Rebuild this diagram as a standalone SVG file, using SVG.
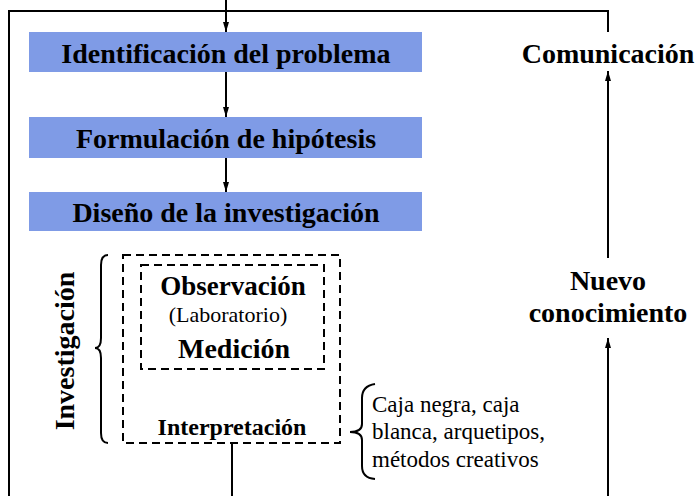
<svg xmlns="http://www.w3.org/2000/svg" width="697" height="496" viewBox="0 0 697 496">
<style>
.box{fill:#7f9be6;stroke:none}
.t{font-family:"Liberation Serif",serif;fill:#000}
.b{font-weight:bold}
.ln{stroke:#000;stroke-width:2;fill:none}
.dash{stroke:#000;stroke-width:2;fill:none;stroke-dasharray:8 5}
</style>
<defs>
<marker id="ah" viewBox="0 0 10 6" refX="10" refY="3" markerWidth="10" markerHeight="6" markerUnits="userSpaceOnUse" orient="auto">
<path d="M0,0 L10,3 L0,6 Z" fill="#000"/>
</marker>
</defs>
<rect width="697" height="496" fill="#fff"/>
<g id="connectors">
<path class="ln" d="M9,496 L9,11 L608,11 L608,32"/>
<line class="ln" x1="226" y1="0" x2="226" y2="32" marker-end="url(#ah)"/>
<line class="ln" x1="226" y1="72" x2="226" y2="117" marker-end="url(#ah)"/>
<line class="ln" x1="226" y1="158" x2="226" y2="192" marker-end="url(#ah)"/>
<line class="ln" x1="608" y1="258" x2="608" y2="71" marker-end="url(#ah)"/>
<line class="ln" x1="608" y1="496" x2="608" y2="338" marker-end="url(#ah)"/>
<line class="ln" x1="232" y1="443" x2="232" y2="496"/>
</g>
<g id="identificacion">
<rect class="box" x="29" y="32" width="393" height="40"/>
<text class="t b" x="226" y="63" font-size="28" text-anchor="middle">Identificación del problema</text>
</g>
<g id="formulacion">
<rect class="box" x="29" y="117" width="393" height="41"/>
<text class="t b" x="226" y="148" font-size="28" text-anchor="middle">Formulación de hipótesis</text>
</g>
<g id="diseno">
<rect class="box" x="29" y="192" width="393" height="39"/>
<text class="t b" x="226" y="222" font-size="28" text-anchor="middle">Diseño de la investigación</text>
</g>
<g id="comunicacion">
<text class="t b" x="608" y="63" font-size="28" text-anchor="middle">Comunicación</text>
</g>
<g id="nuevo">
<text class="t b" x="608" y="290" font-size="28" text-anchor="middle">Nuevo</text>
<text class="t b" x="608" y="322" font-size="28" text-anchor="middle">conocimiento</text>
</g>
<g id="investigacion">
<rect class="dash" x="123" y="255" width="217" height="188"/>
<text class="t b" x="232" y="435" font-size="24" text-anchor="middle">Interpretación</text>
</g>
<g id="observacion">
<rect class="dash" x="141" y="265" width="183" height="104"/>
<text class="t b" x="233" y="295" font-size="27" text-anchor="middle">Observación</text>
<text class="t" x="228" y="322" font-size="22" text-anchor="middle">(Laboratorio)</text>
<text class="t b" x="234" y="358" font-size="28" text-anchor="middle">Medición</text>
</g>
<g id="investigacion-label">
<path class="ln" d="M108,255 Q101,255 101,265 L101,338 Q101,348 95,348 Q101,348 101,358 L101,433 Q101,443 108,443"/>
<text class="t b" x="0" y="0" font-size="28" text-anchor="middle" transform="translate(74,351) rotate(-90)">Investigación</text>
</g>
<g id="metodos">
<path class="ln" d="M375,384 Q362,386 362,398 L362,424 Q362,432 350,432 Q362,432 362,440 L362,466 Q362,478 375,479"/>
<text class="t" x="372" y="412" font-size="23">Caja negra, caja</text>
<text class="t" x="372" y="439" font-size="23">blanca, arquetipos,</text>
<text class="t" x="372" y="467" font-size="23">métodos creativos</text>
</g>
</svg>
